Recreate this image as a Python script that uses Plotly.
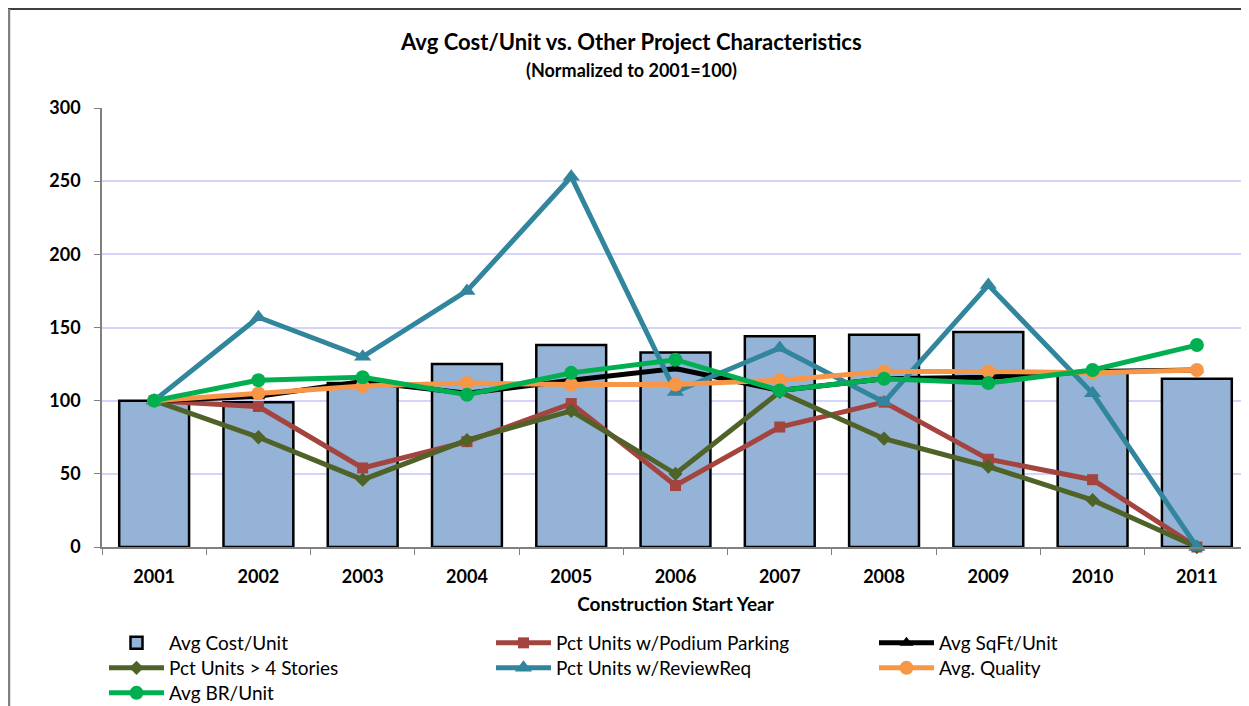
import plotly.graph_objects as go

years = ["2001", "2002", "2003", "2004", "2005", "2006", "2007", "2008", "2009", "2010", "2011"]
avg_cost_unit = [100, 99, 112, 125, 138, 133, 144, 145, 147, 119, 115]
podium_parking = [100, 96, 54, 72, 98, 42, 82, 99, 60, 46, 0]
avg_sqft_unit = [100, 103, 113, 105, 114, 122, 107, 115, 116, 120, 121]
stories_gt4 = [100, 75, 46, 73, 93, 50, 106, 74, 55, 32, 0]
review_req = [100, 157, 130, 175, 253, 106, 136, 99, 179, 105, 0]
avg_quality = [100, 105, 110, 112, 111, 111, 114, 120, 120, 119, 121]
avg_br_unit = [100, 114, 116, 104, 119, 128, 107, 115, 112, 121, 138]
y_ticks = [0, 50, 100, 150, 200, 250, 300]

OFF = 8  # page body margin
W, H = 1249 - OFF, 706 - OFF
L = 102 - OFF
T = 108 - OFF
R = 0
B = H - (547 - OFF)
pw, ph = W - L - R, H - T - B

FONT = "Lato"

# legend slots (page px): column x, row center y
COLS = [104, 491, 874]
ROWS = [643, 668, 693]

fig = go.Figure()
fig.add_trace(go.Bar(
    x=years, y=avg_cost_unit, name="Avg Cost/Unit", legend="legend",
    marker=dict(color="#95B3D7", line=dict(color="black", width=2.5)),
))

def line(y, name, color, symbol, size, leg):
    fig.add_trace(go.Scatter(
        x=years, y=y, name=name, mode="lines+markers", legend=leg,
        line=dict(color=color, width=5),
        marker=dict(color=color, symbol=symbol, size=size),
        cliponaxis=False,
    ))

line(podium_parking, "Pct Units w/Podium Parking", "#A4443F", "square", 11, "legend2")
line(avg_sqft_unit, "Avg SqFt/Unit", "#000000", "triangle-up", 12, "legend3")
line(stories_gt4, "Pct Units > 4 Stories", "#4F6228", "diamond", 11, "legend4")
line(review_req, "Pct Units w/ReviewReq", "#31859C", "triangle-up", 15, "legend5")
line(avg_quality, "Avg. Quality", "#F79646", "circle", 14, "legend6")
line(avg_br_unit, "Avg BR/Unit", "#00B050", "circle", 14, "legend7")

def fx(px):  # page px -> paper x
    return (px - OFF - L) / pw

def fy(py):  # page px -> paper y
    return (H - B - (py - OFF)) / ph

shapes = [
    dict(type="line", xref="paper", yref="paper", x0=fx(8), x1=fx(1249), y0=fy(9), y1=fy(9),
         line=dict(color="black", width=1.5)),
    dict(type="line", xref="paper", yref="paper", x0=fx(9), x1=fx(9), y0=fy(9), y1=fy(706),
         line=dict(color="#808080", width=2.5)),
]

def leg(col, row):
    return dict(
        orientation="v", xref="container", yref="container",
        x=(COLS[col] - OFF) / W, y=1 - (ROWS[row] - 19 - OFF) / H, xanchor="left", yanchor="top",
        font=dict(size=19, family=FONT, color="black"),
        itemwidth=55, tracegroupgap=0, bgcolor="rgba(0,0,0,0)", borderwidth=0,
    )

fig.update_layout(
    width=W, height=H,
    margin=dict(l=L, r=R, t=T, b=B, autoexpand=False),
    paper_bgcolor="white", plot_bgcolor="white",
    font=dict(family=FONT, color="black"),
    bargap=0.33,
    showlegend=True,
    shapes=shapes,
    annotations=[
        dict(text="<b>Avg Cost/Unit vs. Other Project Characteristics</b>", xref="paper", yref="paper",
             x=fx(631), y=fy(42), showarrow=False, font=dict(size=22, family=FONT), xanchor="center", yanchor="middle"),
        dict(text="<b>(Normalized to 2001=100)</b>", xref="paper", yref="paper",
             x=fx(631), y=fy(70), showarrow=False, font=dict(size=18, family=FONT), xanchor="center", yanchor="middle"),
    ],
    xaxis=dict(
        type="category", tickson="boundaries", ticks="outside", ticklen=6, tickcolor="#808080",
        showline=True, linecolor="#808080", linewidth=1.5, showgrid=False,
        tickfont=dict(size=18, family=FONT, color="black", weight="bold"),
        ticklabelstandoff=13,
        title=dict(text="<b>Construction Start Year</b>", font=dict(size=19, family=FONT), standoff=11),
        range=[-0.5, 10.5],
    ),
    yaxis=dict(
        range=[0, 300], tickvals=y_ticks, ticks="outside", ticklen=6, tickcolor="#808080",
        showline=True, linecolor="#808080", linewidth=1.5,
        showgrid=True, gridcolor="#D4D4FA", gridwidth=1.5, zeroline=False,
        tickfont=dict(size=18, family=FONT, color="black", weight="bold"),
        ticklabelstandoff=10,
    ),
    legend=leg(0, 0),
    legend2=leg(1, 0),
    legend3=leg(2, 0),
    legend4=leg(0, 1),
    legend5=leg(1, 1),
    legend6=leg(2, 1),
    legend7=leg(0, 2),
)

fig.write_html("out.html")
